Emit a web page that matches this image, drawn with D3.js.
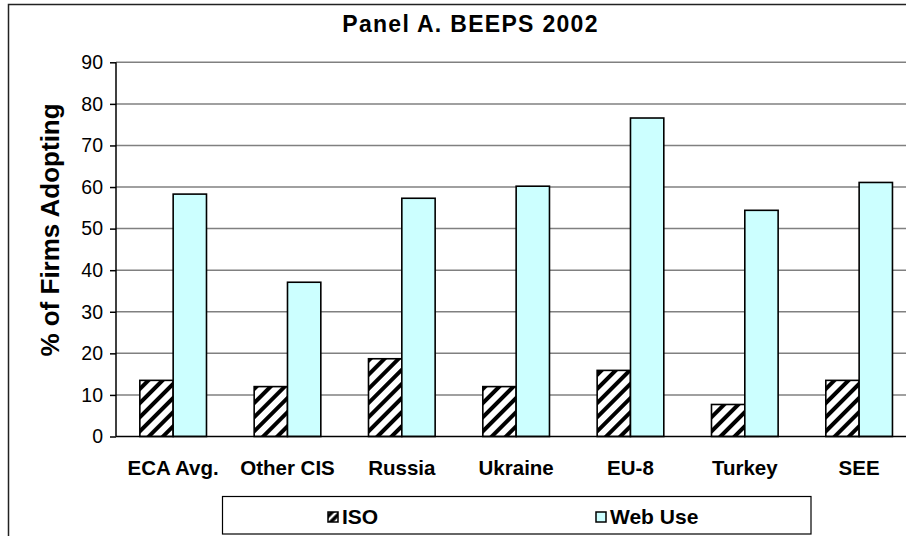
<!DOCTYPE html>
<html><head><meta charset="utf-8">
<script src="https://cdn.jsdelivr.net/npm/d3@7/dist/d3.min.js"></script>
<style>body{margin:0;background:#fff}svg{display:block;font-family:"Liberation Sans",Arial,sans-serif}</style>
</head><body><svg id="c" width="906" height="536"></svg>
<script>
const categories = ["ECA Avg.", "Other CIS", "Russia", "Ukraine", "EU-8", "Turkey", "SEE"];
const seriesNames = ["ISO", "Web Use"];
const isoValues = [13.5, 12.0, 18.7, 12.0, 15.9, 7.7, 13.5];
const webValues = [58.3, 37.1, 57.3, 60.2, 76.6, 54.4, 61.1];
const yTicks = [0, 10, 20, 30, 40, 50, 60, 70, 80, 90];
const title = "Panel A. BEEPS 2002";
const yLabel = "% of Firms Adopting";

const svg = d3.select("#c");
const defs = svg.append("defs");
const pat = defs.append("pattern").attr("id","hatch").attr("patternUnits","userSpaceOnUse")
  .attr("width",10).attr("height",10).attr("patternTransform","rotate(45)");
pat.append("rect").attr("width",10).attr("height",10).attr("fill","#fff");
pat.append("line").attr("x1",5).attr("x2",5).attr("y1",0).attr("y2",10).attr("stroke","#000").attr("stroke-width",4);
const pat2 = defs.append("pattern").attr("id","hatchSmall").attr("patternUnits","userSpaceOnUse")
  .attr("width",6).attr("height",6).attr("patternTransform","rotate(45)");
pat2.append("rect").attr("width",6).attr("height",6).attr("fill","#fff");
pat2.append("line").attr("x1",3).attr("x2",3).attr("y1",0).attr("y2",6).attr("stroke","#000").attr("stroke-width",3.5);

// outer chart border (cropped on right/bottom)
svg.append("rect").attr("x",8.5).attr("y",4.5).attr("width",930).attr("height",545)
  .attr("fill","none").attr("stroke","#222").attr("stroke-width",1.5);

const x0 = d3.scaleBand().domain(categories).range([116, 916.3]).paddingInner(0.417).paddingOuter(0.2085);
const x1 = d3.scaleBand().domain(seriesNames).range([0, x0.bandwidth()]);
const y = d3.scaleLinear().domain([0, 90]).range([436.5, 62.3]);

// gridlines
svg.append("g").selectAll("line").data(yTicks.filter(d=>d>0)).join("line")
  .attr("x1",116).attr("x2",916).attr("y1",d=>y(d)).attr("y2",d=>y(d))
  .attr("stroke","#808080").attr("stroke-width",1.5);

// y axis
const yAxis = svg.append("g").attr("transform","translate(116,0)")
  .call(d3.axisLeft(y).tickValues(yTicks).tickSize(6).tickPadding(7).tickFormat(d3.format("d")));
yAxis.select(".domain").attr("stroke","#000").attr("stroke-width",1.5).attr("d","M0,62.3V436.5");
yAxis.selectAll(".tick line").attr("stroke","#000").attr("stroke-width",1.5);
yAxis.selectAll(".tick text").attr("font-size",19.5).attr("fill","#000").attr("font-family","Liberation Sans, Arial, sans-serif");

// bars
const data = categories.map((c,i)=>({cat:c, vals:[{s:"ISO",v:isoValues[i]},{s:"Web Use",v:webValues[i]}]}));
const g = svg.append("g").selectAll("g").data(data).join("g").attr("transform",d=>`translate(${x0(d.cat)},0)`);
g.selectAll("rect").data(d=>d.vals).join("rect")
  .attr("x",d=>x1(d.s)).attr("width",x1.bandwidth())
  .attr("y",d=>y(d.v)).attr("height",d=>y(0)-y(d.v))
  .attr("fill",d=>d.s==="ISO"?"url(#hatch)":"#CCFFFF")
  .attr("stroke","#000").attr("stroke-width",1.6);

// x baseline
svg.append("line").attr("x1",116).attr("x2",916).attr("y1",y(0)).attr("y2",y(0)).attr("stroke","#000").attr("stroke-width",1.5);

// x axis labels
const xAxis = svg.append("g").attr("transform",`translate(0,${y(0)})`)
  .call(d3.axisBottom(x0).tickSize(0).tickPadding(24));
xAxis.select(".domain").remove();
xAxis.selectAll(".tick text").attr("font-size",20.5).attr("font-weight","bold").attr("fill","#000")
  .attr("font-family","Liberation Sans, Arial, sans-serif");

// title
svg.append("text").attr("x",470.5).attr("y",32).attr("text-anchor","middle")
  .attr("font-size",23).attr("font-weight","bold").attr("letter-spacing",1.3).text(title);

// y label
svg.append("text").attr("transform","translate(59,230) rotate(-90)").attr("text-anchor","middle")
  .attr("font-size",26).attr("font-weight","bold").text(yLabel);

// legend
const lg = svg.append("g");
lg.append("rect").attr("x",222.5).attr("y",496.5).attr("width",588.5).attr("height",37.5)
  .attr("fill","#fff").attr("stroke","#000").attr("stroke-width",1.2);
const legX = [328, 596];
const items = lg.selectAll("g").data(seriesNames).join("g").attr("transform",(d,i)=>`translate(${legX[i]},512)`);
items.append("rect").attr("width",10).attr("height",10)
  .attr("fill",d=>d==="ISO"?"url(#hatchSmall)":"#CCFFFF").attr("stroke","#000").attr("stroke-width",1.5);
items.append("text").attr("x",14).attr("y",11.5).attr("font-size",21).attr("font-weight","bold").text(d=>d);
</script></body></html>
